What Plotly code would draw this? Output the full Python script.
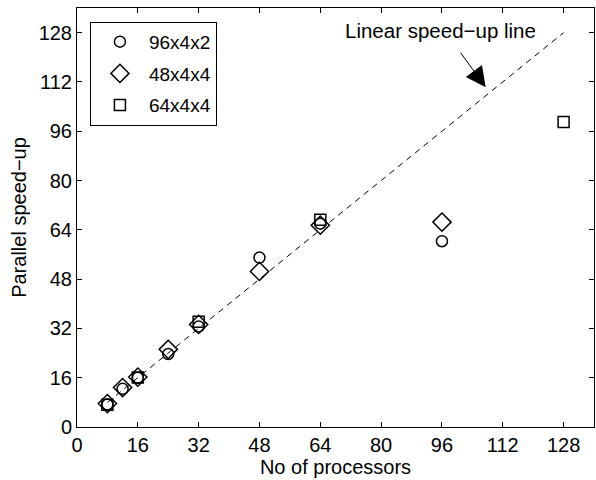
import plotly.graph_objects as go

# Data
procs_a = [8, 12, 16, 24, 32, 48, 64, 96]
speed_a = [7.3, 12.4, 16.0, 23.7, 32.6, 55.0, 66.0, 60.3]   # 96x4x2
procs_b = [8, 12, 16, 24, 32, 48, 64, 96]
speed_b = [7.6, 12.8, 16.2, 25.2, 33.3, 50.5, 65.5, 66.5]   # 48x4x4
procs_c = [8, 16, 32, 64, 128]
speed_c = [7.2, 16.1, 34.2, 67.3, 99.0]                     # 64x4x4
linear_x = [8, 128]
linear_y = [8, 128]
ticks = [0, 16, 32, 48, 64, 80, 96, 112, 128]

FONT = "Liberation Sans, Arial, sans-serif"

fig = go.Figure()
fig.add_trace(go.Scatter(x=linear_x, y=linear_y, mode="lines",
                         line=dict(color="black", width=1, dash="6px,5px"),
                         showlegend=False, hoverinfo="skip"))
series = [
    ("96x4x2", procs_a, speed_a, "circle-open", 11),
    ("48x4x4", procs_b, speed_b, "diamond-open", 14),
    ("64x4x4", procs_c, speed_c, "square-open", 11),
]
for i, (name, xs, ys, sym, sz) in enumerate(series):
    fig.add_trace(go.Scatter(x=xs, y=ys, mode="markers", name=name,
                             legendgroup=f"g{i}",
                             marker=dict(symbol=sym, size=sz, color="black",
                                         line=dict(color="black", width=1.5))))

axis_common = dict(range=[0, 136], tickvals=ticks, ticks="inside", ticklen=5,
                   tickcolor="black", showline=True, linecolor="black", linewidth=1,
                   mirror="allticks", showgrid=False, zeroline=False,
                   tickfont=dict(size=20, color="black", family=FONT))

fig.update_xaxes(**axis_common,
                 title=dict(text="No of processors", standoff=0,
                            font=dict(size=20, color="black", family=FONT)))
fig.update_yaxes(**axis_common,
                 title=dict(text="Parallel speed\u2212up", standoff=6,
                            font=dict(size=20, color="black", family=FONT)))

fig.add_annotation(x=107.5, y=110.3, ax=100.6, ay=122.0, axref="x", ayref="y",
                   xref="x", yref="y", showarrow=True, arrowhead=2, arrowsize=4,
                   arrowwidth=1, arrowcolor="black", text="")
fig.add_annotation(x=95.6, y=128.8, xref="x", yref="y", showarrow=False,
                   text="Linear speed\u2212up line",
                   font=dict(size=20.5, color="black", family=FONT))

fig.update_layout(
    width=596, height=480,
    margin=dict(l=77, r=2, t=8, b=53),
    paper_bgcolor="white", plot_bgcolor="white",
    font=dict(family=FONT, size=20, color="black"),
    legend=dict(x=0.025, y=0.967, xanchor="left", yanchor="top",
                bordercolor="black", borderwidth=1, bgcolor="white",
                tracegroupgap=4, font=dict(size=19, color="black", family=FONT),
                itemwidth=48),
)

fig.write_html("out.html")
